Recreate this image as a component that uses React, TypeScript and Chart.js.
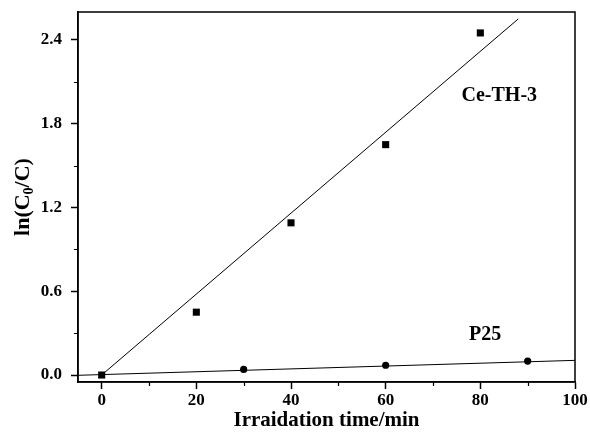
import React, { useEffect, useRef } from 'react';
import { Chart, registerables } from 'chart.js';

Chart.register(...registerables);

// Kinetic data: ln(C0/C) versus irradiation time (min)
const ceTime = [0, 20, 40, 60, 80];
const ceLn = [0, 0.45, 1.09, 1.65, 2.45];
const p25Time = [30, 60, 90];
const p25Ln = [0.04, 0.07, 0.1];

// Linear fit end points
const ceFitTime = [0, 88];
const ceFitLn = [0, 2.55];
const p25FitTime = [-5, 100];
const p25FitLn = [-0.002, 0.105];

// Axis ticks
const xMajorTicks = [0, 20, 40, 60, 80, 100];
const xMinorTicks = [10, 30, 50, 70, 90];
const yMajorTicks = [0, 0.6, 1.2, 1.8, 2.4];
const yMinorTicks = [0.3, 0.9, 1.5, 2.1];

// In-plot series labels (anchored in data units)
const seriesLabels = ['Ce-TH-3', 'P25'];
const seriesLabelTime = [84, 81];
const seriesLabelLn = [2.0, 0.29];

const FONT = '"Liberation Serif", "Times New Roman", serif';

const toPoints = (xs: number[], ys: number[]) => xs.map((x, i) => ({ x, y: ys[i] }));

const decorPlugin = {
  id: 'decor',
  afterDraw(chart: any) {
    const { ctx, chartArea, scales } = chart;
    const { left, right, top, bottom } = chartArea;
    const xs = scales.x;
    const ys = scales.y;
    ctx.save();
    ctx.strokeStyle = '#000';
    ctx.lineWidth = 1.5;
    ctx.strokeRect(left, top, right - left, bottom - top);

    // minor ticks
    ctx.lineWidth = 1.2;
    ctx.beginPath();
    xMinorTicks.forEach((v) => {
      const px = Math.round(xs.getPixelForValue(v)) + 0.5;
      ctx.moveTo(px, bottom);
      ctx.lineTo(px, bottom + 4);
    });
    yMinorTicks.forEach((v) => {
      const py = Math.round(ys.getPixelForValue(v)) + 0.5;
      ctx.moveTo(left, py);
      ctx.lineTo(left - 4, py);
    });
    ctx.stroke();

    // series labels
    ctx.fillStyle = '#000';
    ctx.font = `bold 20px ${FONT}`;
    ctx.textAlign = 'center';
    ctx.textBaseline = 'middle';
    seriesLabels.forEach((t, i) => {
      ctx.fillText(t, xs.getPixelForValue(seriesLabelTime[i]), ys.getPixelForValue(seriesLabelLn[i]));
    });

    // y-axis title with subscript
    const mainFont = `bold 22px ${FONT}`;
    const subFont = `bold 14px ${FONT}`;
    const p1 = 'ln(C';
    const p2 = '0';
    const p3 = '/C)';
    ctx.translate(21, (top + bottom) / 2);
    ctx.rotate(-Math.PI / 2);
    ctx.textAlign = 'left';
    ctx.textBaseline = 'alphabetic';
    ctx.font = mainFont;
    const w1 = ctx.measureText(p1).width;
    const w3 = ctx.measureText(p3).width;
    ctx.font = subFont;
    const w2 = ctx.measureText(p2).width;
    let x0 = -(w1 + w2 + w3) / 2;
    const base = 8;
    ctx.font = mainFont;
    ctx.fillText(p1, x0, base);
    x0 += w1;
    ctx.font = subFont;
    ctx.fillText(p2, x0, base + 4);
    x0 += w2;
    ctx.font = mainFont;
    ctx.fillText(p3, x0, base);
    ctx.restore();
  },
};

export default function App() {
  const canvasRef = useRef<HTMLCanvasElement | null>(null);

  useEffect(() => {
    if (!canvasRef.current) return;
    const tickFont = { family: FONT, size: 17, weight: 'bold' as const };
    const chart = new Chart(canvasRef.current, {
      type: 'scatter',
      data: {
        datasets: [
          {
            label: 'Ce-TH-3 fit',
            data: toPoints(ceFitTime, ceFitLn),
            showLine: true,
            borderColor: '#000',
            borderWidth: 1,
            pointRadius: 0,
          },
          {
            label: 'P25 fit',
            data: toPoints(p25FitTime, p25FitLn),
            showLine: true,
            borderColor: '#000',
            borderWidth: 1,
            pointRadius: 0,
          },
          {
            label: 'Ce-TH-3',
            data: toPoints(ceTime, ceLn),
            pointStyle: 'rect',
            pointRadius: 5,
            backgroundColor: '#000',
            borderWidth: 0,
          },
          {
            label: 'P25',
            data: toPoints(p25Time, p25Ln),
            pointStyle: 'circle',
            pointRadius: 3.6,
            backgroundColor: '#000',
            borderWidth: 0,
          },
        ],
      },
      options: {
        responsive: false,
        animation: false,
        layout: { padding: { top: 12, right: 15, bottom: 2, left: 0 } },
        plugins: { legend: { display: false }, tooltip: { enabled: false } },
        scales: {
          x: {
            type: 'linear',
            min: -5,
            max: 100,
            afterBuildTicks: (s: any) => {
              s.ticks = xMajorTicks.map((v) => ({ value: v }));
            },
            afterFit: (s: any) => {
              s.height = 51;
              s.paddingLeft = 0;
              s.paddingRight = 0;
            },
            grid: { drawOnChartArea: false, drawTicks: true, tickLength: 7, tickColor: '#000', tickWidth: 1.5 },
            border: { display: true, color: '#000', width: 1.5 },
            ticks: {
              color: '#000',
              font: tickFont,
              padding: 1,
              maxRotation: 0,
              autoSkip: false,
              callback: (v: any) => String(v),
            },
            title: {
              display: true,
              text: 'Irraidation time/min',
              color: '#000',
              font: { family: FONT, size: 21, weight: 'bold' },
              padding: { top: 0, bottom: 0 },
            },
          },
          y: {
            type: 'linear',
            min: -0.05,
            max: 2.6,
            afterBuildTicks: (s: any) => {
              s.ticks = yMajorTicks.map((v) => ({ value: v }));
            },
            afterFit: (s: any) => {
              s.width = 78;
              s.paddingTop = 0;
              s.paddingBottom = 0;
            },
            grid: { drawOnChartArea: false, drawTicks: true, tickLength: 7, tickColor: '#000', tickWidth: 1.5 },
            border: { display: true, color: '#000', width: 1.5 },
            ticks: {
              color: '#000',
              font: tickFont,
              padding: 9,
              autoSkip: false,
              callback: (v: any) => Number(v).toFixed(1),
            },
          },
        },
      },
      plugins: [decorPlugin],
    });
    return () => chart.destroy();
  }, []);

  return (
    <div style={{ position: 'absolute', left: 0, top: 0, width: 590, height: 435, background: '#fff' }}>
      <canvas ref={canvasRef} width={590} height={435} style={{ display: 'block' }} />
    </div>
  );
}
